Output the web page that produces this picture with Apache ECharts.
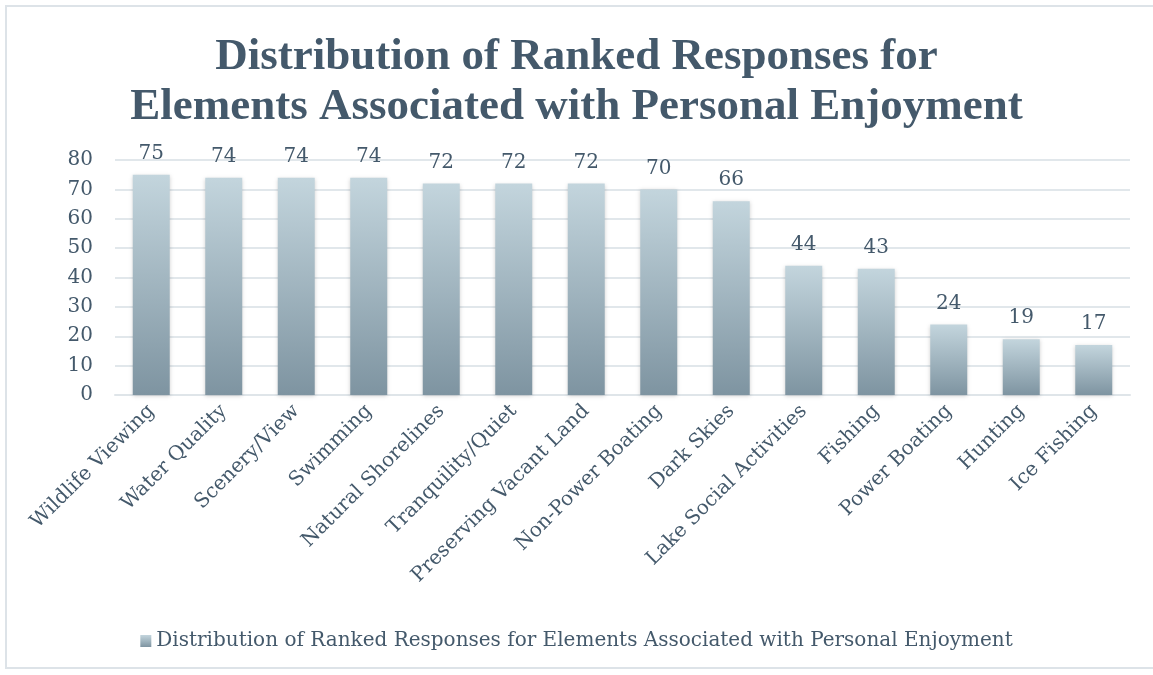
<!DOCTYPE html>
<html><head><meta charset="utf-8">
<script src="https://cdn.jsdelivr.net/npm/echarts@6/dist/echarts.min.js"></script>
<style>
html,body{margin:0;padding:0;background:#fff;}
#wrap{position:absolute;left:5px;top:5px;width:1160px;height:664px;border:2px solid #dde3e8;box-sizing:border-box;}
#c{position:absolute;left:0;top:0;width:1153px;height:675px;}
</style></head>
<body>
<div id="wrap"></div>
<div id="c"></div>
<script>
const titleText = 'Distribution of Ranked Responses for\nElements Associated with Personal Enjoyment';
const seriesName = 'Distribution of Ranked Responses for Elements Associated with Personal Enjoyment';
const categories = ['Wildlife Viewing','Water Quality','Scenery/View','Swimming','Natural Shorelines','Tranquility/Quiet','Preserving Vacant Land','Non-Power Boating','Dark Skies','Lake Social Activities','Fishing','Power Boating','Hunting','Ice Fishing'];
const values = [75,74,74,74,72,72,72,70,66,44,43,24,19,17];
const yTicks = [0,10,20,30,40,50,60,70,80];

const txt = '#44596b';
const font = 'DejaVu Serif';
const tfont = 'Liberation Serif';
const grad = new echarts.graphic.LinearGradient(0,0,0,1,[{offset:0,color:'#c3d5dd'},{offset:1,color:'#7e94a1'}]);
const chart = echarts.init(document.getElementById('c'));
chart.setOption({
  animation:false,
  title:{text:titleText,left:'center',top:27,textStyle:{fontFamily:tfont,fontSize:45,fontWeight:'bold',color:txt,lineHeight:50}},
  grid:{left:115,right:23,top:160,bottom:280,containLabel:false},
  legend:{bottom:19,left:'center',itemWidth:11,itemHeight:12,itemGap:5,icon:'rect',
    textStyle:{fontFamily:font,fontSize:20,color:txt},data:[{name:seriesName,itemStyle:{color:grad}}]},
  xAxis:{type:'category',data:categories,axisTick:{show:false},
    axisLine:{lineStyle:{color:'#dfe5e9',width:2}},
    axisLabel:{rotate:45,interval:0,margin:13,fontFamily:font,fontSize:20,color:txt}},
  yAxis:{type:'value',min:yTicks[0],max:yTicks[yTicks.length-1],interval:10,
    axisLine:{show:false},axisTick:{show:false},
    splitLine:{lineStyle:{color:'#e1e7eb',width:2}},
    axisLabel:{margin:22,fontFamily:font,fontSize:20,color:txt}},
  series:[{name:seriesName,type:'bar',data:values,barWidth:'51%',
    itemStyle:{color:grad,shadowColor:'rgba(0,0,0,0.18)',shadowBlur:4,shadowOffsetY:1},
    label:{show:true,position:'top',distance:11,fontFamily:font,fontSize:20,color:txt}}]
});
</script>
</body></html>
